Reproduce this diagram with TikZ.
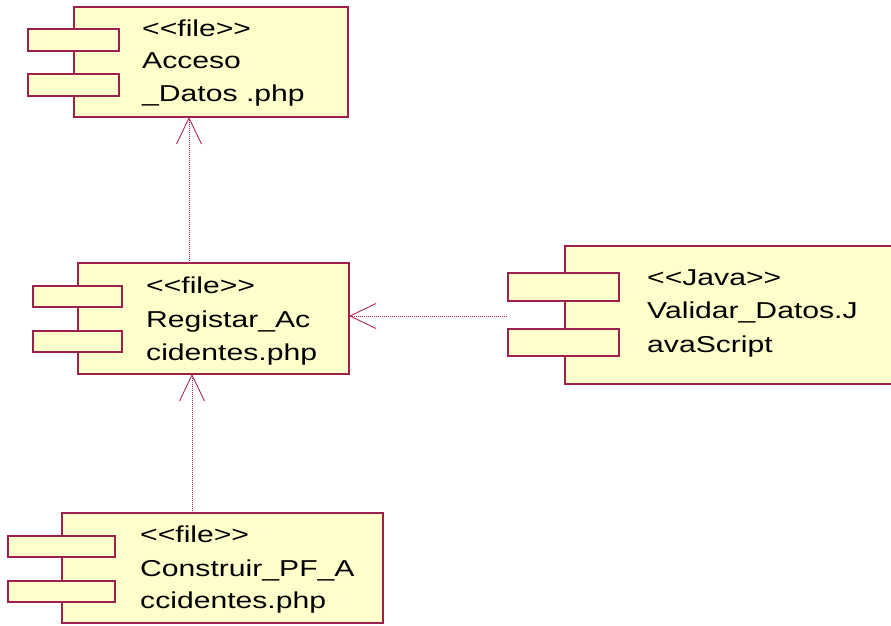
\documentclass[tikz,border=0pt]{standalone}
\usepackage{fontspec}
\newfontfamily\labfont[FakeStretch=1.31]{Liberation Sans}
\usetikzlibrary{arrows.meta}
\definecolor{bord}{RGB}{160,30,75}
\definecolor{boxfill}{RGB}{255,255,204}
\definecolor{depc}{RGB}{175,40,90}
\newcommand{\stereo}[1]{<\kern0pt<#1>\kern0pt>}
\tikzset{
  compbox/.style={draw=bord, fill=boxfill, line width=1.3pt, anchor=north west, inner sep=0pt, outer sep=0pt},
  lab/.style={anchor=base west, inner sep=0pt, font=\labfont\fontsize{23}{27}\selectfont, text=black},
  dep/.style={draw=depc, line width=0.9pt, dash pattern=on 1.2pt off 0.8pt,
    -{Straight Barb[length=26pt, width=25pt, line width=0.9pt]}}
}
\begin{document}
\begin{tikzpicture}[x=1pt, y=-1pt]
\useasboundingbox (0,0) rectangle (891,626);
% Acceso_Datos.php
\node[compbox, minimum width=274pt, minimum height=110pt] (acc) at (74,7) {};
\node[compbox, minimum width=91pt, minimum height=22pt] (accp1) at (28,29) {};
\node[compbox, minimum width=91pt, minimum height=22pt] (accp2) at (28,74) {};
\node[lab] (acct1) at (142,37) {\stereo{file}};
\node[lab] (acct2) at (142,69) {Acceso};
\node[lab] (acct3) at (142,101) {\_Datos .php};
% Registar_Accidentes.php
\node[compbox, minimum width=271pt, minimum height=111pt] (reg) at (78,263) {};
\node[compbox, minimum width=89pt, minimum height=21pt] (regp1) at (33,286) {};
\node[compbox, minimum width=89pt, minimum height=21pt] (regp2) at (33,331) {};
\node[lab] (regt1) at (146,293) {\stereo{file}};
\node[lab] (regt2) at (146,327) {Registar\_Ac};
\node[lab] (regt3) at (146,360) {cidentes.php};
% Validar_Datos.JavaScript
\node[compbox, minimum width=330pt, minimum height=138pt] (val) at (565,246) {};
\node[compbox, minimum width=111pt, minimum height=28pt] (valp1) at (508,273) {};
\node[compbox, minimum width=111pt, minimum height=27pt] (valp2) at (508,329) {};
\node[lab] (valt1) at (647,285) {\stereo{Java}};
\node[lab] (valt2) at (647,318) {Validar\_Datos.J};
\node[lab] (valt3) at (647,352) {avaScript};
% Construir_PF_Accidentes.php
\node[compbox, minimum width=321pt, minimum height=110pt] (con) at (62,513) {};
\node[compbox, minimum width=107pt, minimum height=21pt] (conp1) at (8,536) {};
\node[compbox, minimum width=107pt, minimum height=21pt] (conp2) at (8,581) {};
\node[lab] (cont1) at (140,542) {\stereo{file}};
\node[lab] (cont2) at (140,576) {Construir\_PF\_A};
\node[lab] (cont3) at (140,608) {ccidentes.php};
% dependencies
\coordinate (d1) at (189,263);
\coordinate (d2) at (192,513);
\coordinate (d3) at (507,316);
\draw[dep] (d1) -- (d1 |- acc.south);
\draw[dep] (d2) -- (d2 |- reg.south);
\draw[dep] (d3) -- (d3 -| reg.east);
\end{tikzpicture}
\end{document}
